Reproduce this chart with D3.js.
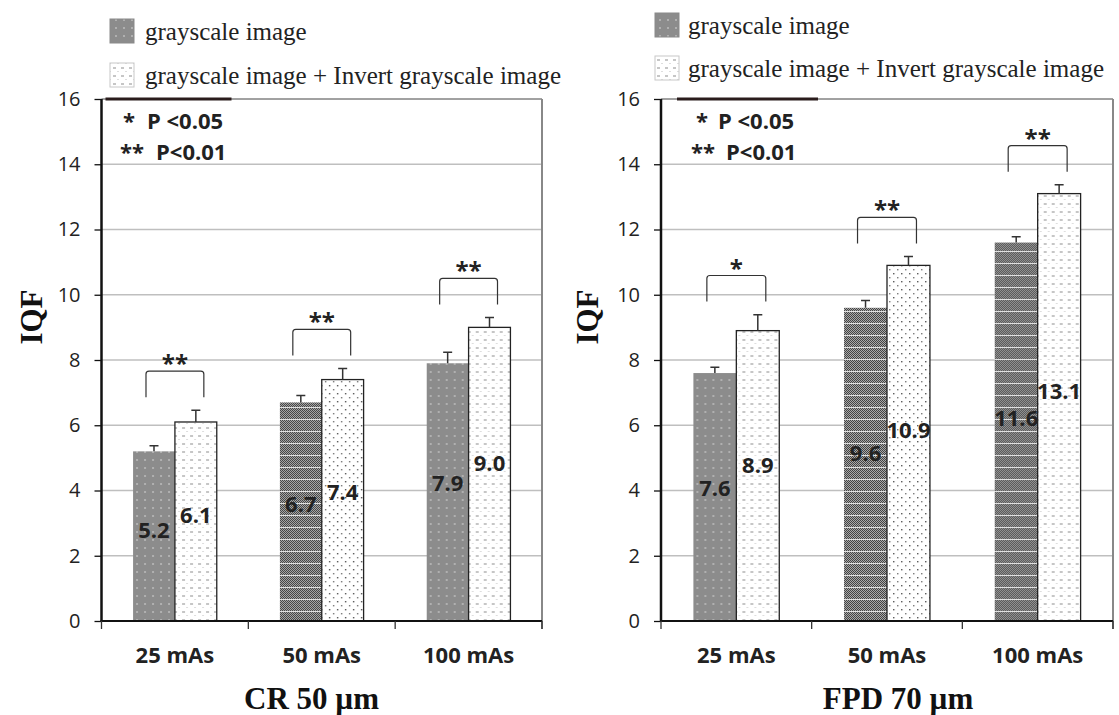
<!DOCTYPE html>
<html><head><meta charset="utf-8">
<script src="https://cdn.jsdelivr.net/npm/d3@7"></script>
<style>
html,body{margin:0;padding:0;background:#fff;}
svg{display:block;}
</style></head>
<body>
<svg id="chart" width="1119" height="715"></svg>
<script>
// ---------- DATA ----------
const categories = ["25 mAs", "50 mAs", "100 mAs"];
const seriesNames = ["grayscale image", "grayscale image + Invert grayscale image"];
const yTicks = [0, 2, 4, 6, 8, 10, 12, 14, 16];

const crGray    = [5.2, 6.7, 7.9];
const crGrayErr = [0.17, 0.21, 0.34];
const crInv     = [6.1, 7.4, 9.0];
const crInvErr  = [0.36, 0.34, 0.30];
const crSig     = ["**", "**", "**"];

const fpdGray    = [7.6, 9.6, 11.6];
const fpdGrayErr = [0.18, 0.22, 0.18];
const fpdInv     = [8.9, 10.9, 13.1];
const fpdInvErr  = [0.49, 0.27, 0.27];
const fpdSig     = ["*", "**", "**"];

const pLegend = [["*", "P <0.05"], ["**", "P<0.01"]];

// ---------- DRAW ----------
const svg = d3.select("#chart");
const SANS = "'Open Sans', 'Noto Sans', sans-serif";
const SERIF = "'Liberation Serif', 'DejaVu Serif', serif";

const defs = svg.append("defs");
function pat(id, w, h, base, draw) {
  const p = defs.append("pattern").attr("id", id).attr("patternUnits", "userSpaceOnUse")
    .attr("width", w).attr("height", h);
  p.append("rect").attr("width", w).attr("height", h).attr("fill", base);
  draw(p);
}
pat("pGrayDots", 8, 8, "#8c8c8c", p => {
  p.append("rect").attr("x", 3).attr("y", 3).attr("width", 2).attr("height", 2).attr("fill", "#b0b0b0");
});
pat("pChecker", 12, 12, "#b0b0b0", p => {
  for (let i = 0; i < 12; i++) for (let j = 0; j < 12; j++) {
    if ((i + j) % 2 === 0) p.append("rect").attr("x", i).attr("y", j).attr("width", 1).attr("height", 1).attr("fill", "#3c3c3c");
  }
  p.append("rect").attr("x", 0).attr("y", 11).attr("width", 12).attr("height", 1).attr("fill", "#e0e0e0");
});
pat("pInvDots", 8, 8, "#ffffff", p => {
  p.append("rect").attr("x", 1).attr("y", 3).attr("width", 3).attr("height", 2).attr("fill", "#c6c6c6");
  p.append("rect").attr("x", 5).attr("y", 7).attr("width", 2).attr("height", 1).attr("fill", "#dedede");
});
pat("pInvDark", 8, 8, "#ffffff", p => {
  p.append("rect").attr("x", 1).attr("y", 1).attr("width", 1.4).attr("height", 1.4).attr("fill", "#555");
  p.append("rect").attr("x", 5).attr("y", 5).attr("width", 1.4).attr("height", 1.4).attr("fill", "#777");
});

const charts = [
  { gray: crGray, grayErr: crGrayErr, inv: crInv, invErr: crInvErr, sig: crSig,
    title: "CR 50 \u00b5m", x0: 101.5, x1: 542, titleX: 311.5,
    grayPat: ["pGrayDots", "pChecker", "pGrayDots"], invPat: ["pInvDots", "pInvDark", "pInvDots"],
    legend: { sx: 110, sy: 19, tx: 145, dy: 44 }, iqfX: 31,
    pbox: { a: 4, b: 130, s1: 21.5, t1: 45.5, s2: 18.5, t2: 54.5 } },
  { gray: fpdGray, grayErr: fpdGrayErr, inv: fpdInv, invErr: fpdInvErr, sig: fpdSig,
    title: "FPD 70 \u00b5m", x0: 661, x1: 1113, titleX: 898,
    grayPat: ["pGrayDots", "pChecker", "pChecker"], invPat: ["pInvDots", "pInvDark", "pInvDots"],
    legend: { sx: 655, sy: 13, tx: 688, dy: 43 }, iqfX: 587,
    pbox: { a: 16, b: 157, s1: 35, t1: 57, s2: 30, t2: 65 } }
];

const yTop = 99, yBot = 621;
const y = d3.scaleLinear().domain([0, 16]).range([yBot, yTop]);

charts.forEach(c => {
  const g = svg.append("g");
  const x = d3.scaleBand().domain(categories).range([c.x0, c.x1]).paddingInner(0.43).paddingOuter(0.215);
  const xs = d3.scaleBand().domain([0, 1]).range([0, x.bandwidth()]);
  const step = x.step();

  // gridlines
  g.append("g").selectAll("line").data(yTicks.filter(t => t > 0 && t < 16)).join("line")
    .attr("x1", c.x0).attr("x2", c.x1).attr("y1", d => y(d)).attr("y2", d => y(d))
    .attr("stroke", "#bfbfbf").attr("stroke-width", 1.5);

  // frame top & right
  g.append("line").attr("x1", c.x0).attr("x2", c.x1).attr("y1", yTop).attr("y2", yTop)
    .attr("stroke", "#444").attr("stroke-width", 1);
  g.append("line").attr("x1", c.x1).attr("x2", c.x1).attr("y1", yTop).attr("y2", yBot + 8)
    .attr("stroke", "#888").attr("stroke-width", 2);
  // p-box thick top
  g.append("line").attr("x1", c.x0 + c.pbox.a).attr("x2", c.x0 + c.pbox.b).attr("y1", yTop).attr("y2", yTop)
    .attr("stroke", "#2a1c1c").attr("stroke-width", 3);

  // bars
  const rows = categories.map((cat, i) => ({ cat, i }));
  const grp = g.append("g").selectAll("g").data(rows).join("g")
    .attr("transform", d => `translate(${x(d.cat)},0)`);
  grp.append("rect")
    .attr("x", xs(0)).attr("width", xs.bandwidth())
    .attr("y", d => y(c.gray[d.i])).attr("height", d => yBot - y(c.gray[d.i]))
    .attr("fill", d => `url(#${c.grayPat[d.i]})`);
  grp.append("rect")
    .attr("x", xs(1)).attr("width", xs.bandwidth())
    .attr("y", d => y(c.inv[d.i])).attr("height", d => yBot - y(c.inv[d.i]))
    .attr("fill", d => `url(#${c.invPat[d.i]})`)
    .attr("stroke", "#222").attr("stroke-width", 1.3);

  // error bars
  function err(sel, idx, vals, errs) {
    const cx = xs(idx) + xs.bandwidth() / 2;
    sel.append("path")
      .attr("d", d => {
        const t = y(vals[d.i] + errs[d.i]);
        return `M${cx},${y(vals[d.i])}V${t}M${cx - 4.5},${t}H${cx + 4.5}`;
      })
      .attr("stroke", "#333").attr("stroke-width", 1.5).attr("fill", "none");
  }
  err(grp, 0, c.gray, c.grayErr);
  err(grp, 1, c.inv, c.invErr);

  // value labels
  [[0, c.gray], [1, c.inv]].forEach(([idx, vals]) => {
    grp.append("text")
      .attr("x", xs(idx) + xs.bandwidth() / 2)
      .attr("y", d => y(vals[d.i] * 0.54))
      .attr("text-anchor", "middle").attr("dominant-baseline", "central")
      .attr("font-family", SANS).attr("font-weight", 700).attr("font-size", 22)
      .attr("fill", "#222")
      .text(d => vals[d.i].toFixed(1));
  });

  // significance brackets
  grp.each(function (d) {
    const top = Math.max(c.gray[d.i] + c.grayErr[d.i], c.inv[d.i] + c.invErr[d.i]) + 1.2;
    const yt = y(top), yb = y(top - 0.8);
    const xl = xs(0) + xs.bandwidth() / 2 - 8, xr = xs(1) + xs.bandwidth() / 2 + 8;
    const s = d3.select(this);
    s.append("path")
      .attr("d", `M${xl},${yb}V${yt + 3}Q${xl},${yt} ${xl + 3},${yt}H${xr - 3}Q${xr},${yt} ${xr},${yt + 3}V${yb}`)
      .attr("fill", "none").attr("stroke", "#333").attr("stroke-width", 1.2);
    s.append("text").attr("x", (xl + xr) / 2).attr("y", yt + 1)
      .attr("text-anchor", "middle")
      .attr("font-family", SANS).attr("font-weight", 700).attr("font-size", 24).attr("fill", "#222")
      .text(c.sig[d.i]);
  });

  // y axis
  const ya = g.append("g").attr("transform", `translate(${c.x0},0)`)
    .call(d3.axisLeft(y).tickValues(yTicks).tickSize(7).tickPadding(14).tickFormat(d3.format("d")));
  ya.select(".domain").attr("stroke", "#111").attr("stroke-width", 2.5).attr("d", `M0,${yTop}V${yBot}`);
  ya.selectAll(".tick line").attr("stroke", "#111").attr("stroke-width", 1.3);
  ya.selectAll(".tick text").attr("font-family", SANS).attr("font-size", 20).attr("fill", "#222");

  // x axis line and boundary ticks
  g.append("line").attr("x1", c.x0 - 1).attr("x2", c.x1).attr("y1", yBot).attr("y2", yBot)
    .attr("stroke", "#111").attr("stroke-width", 2.2);
  g.append("g").selectAll("line").data(d3.range(categories.length + 1)).join("line")
    .attr("x1", i => c.x0 + i * step).attr("x2", i => c.x0 + i * step)
    .attr("y1", yBot).attr("y2", yBot + 8)
    .attr("stroke", "#333").attr("stroke-width", 1.3);
  const xa = g.append("g").attr("transform", `translate(0,${yBot})`)
    .call(d3.axisBottom(x).tickSize(0).tickPadding(0));
  xa.select(".domain").remove();
  xa.selectAll(".tick text").attr("y", 42).attr("dy", null)
    .attr("font-family", SANS).attr("font-weight", 700).attr("font-size", 22).attr("fill", "#222");

  // axis title
  g.append("text").attr("transform", `translate(${c.iqfX},317) rotate(-90)`)
    .attr("text-anchor", "middle").attr("dominant-baseline", "central")
    .attr("font-family", SERIF).attr("font-weight", 700).attr("font-size", 31).attr("fill", "#111")
    .text("IQF");

  // chart title
  g.append("text").attr("x", c.titleX).attr("y", 709).attr("text-anchor", "middle")
    .attr("font-family", SERIF).attr("font-weight", 700).attr("font-size", 31).attr("fill", "#111")
    .text(c.title);

  // legend
  seriesNames.forEach((name, k) => {
    g.append("rect").attr("x", c.legend.sx).attr("y", c.legend.sy + k * c.legend.dy)
      .attr("width", 24).attr("height", 24)
      .attr("fill", k === 0 ? "url(#pGrayDots)" : "url(#pInvDots)")
      .attr("stroke", k === 0 ? "#8a8a8a" : "#c8c8c8").attr("stroke-width", 1);
    g.append("text").attr("x", c.legend.tx).attr("y", c.legend.sy + k * c.legend.dy + 12)
      .attr("dominant-baseline", "central")
      .attr("font-family", SERIF).attr("font-size", 25).attr("fill", "#222")
      .text(name);
  });

  // p-value key
  pLegend.forEach(([st, tx], k) => {
    const by = k === 0 ? 129 : 160;
    g.append("text").attr("x", c.x0 + (k === 0 ? c.pbox.s1 : c.pbox.s2)).attr("y", by)
      .attr("font-family", SANS).attr("font-weight", 700).attr("font-size", 22).attr("fill", "#222").text(st);
    g.append("text").attr("x", c.x0 + (k === 0 ? c.pbox.t1 : c.pbox.t2)).attr("y", by)
      .attr("font-family", SANS).attr("font-weight", 700).attr("font-size", 22).attr("fill", "#222").text(tx);
  });
});
</script>
</body></html>
